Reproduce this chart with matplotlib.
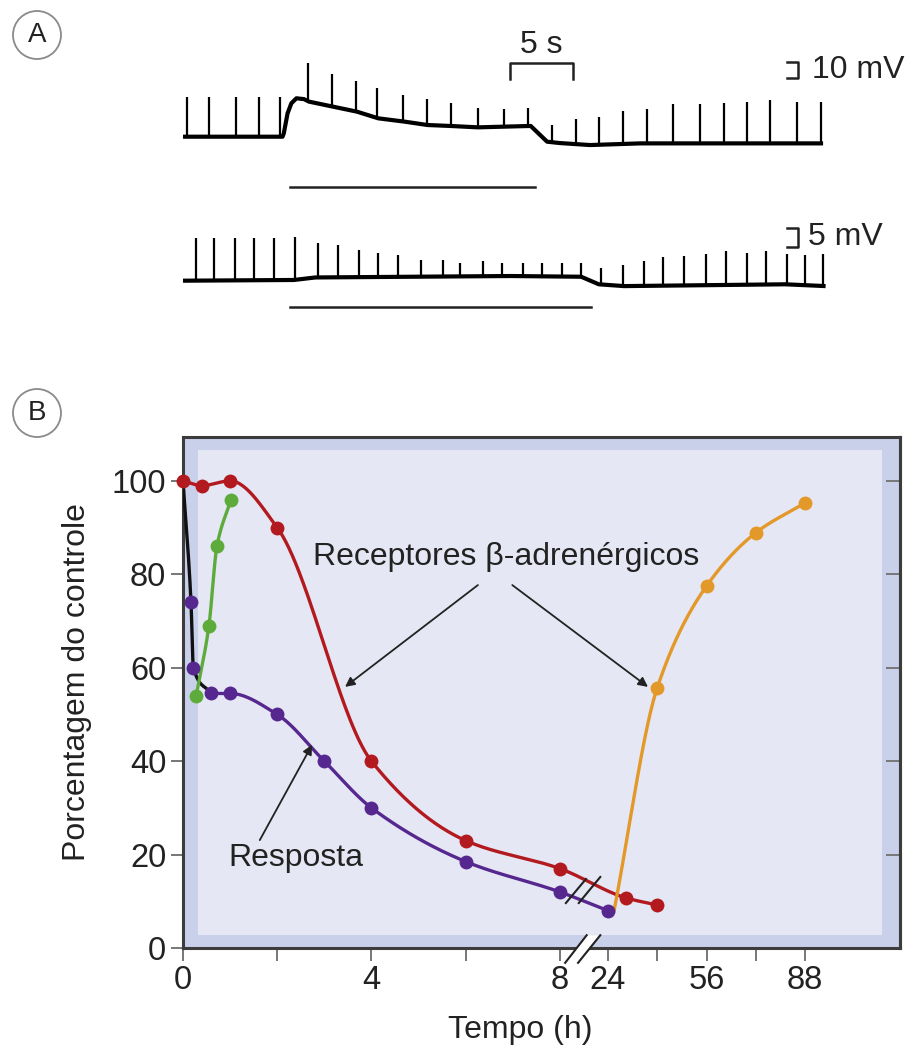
import numpy as np
import matplotlib.pyplot as plt
from matplotlib.patches import Ellipse, Polygon, Rectangle

plt.rcParams['font.family'] = ['Liberation Sans', 'DejaVu Sans']

W, H = 912, 1055

# ---------------- Painel A: registros (tempo em s, voltagem em mV) ----------------
top_base_t = [0.0, 7.9, 8.0, 8.3, 8.6, 9.0, 9.6, 10.0, 11.9, 13.8, 15.5, 17.6, 19.4, 21.3, 23.4,
              27.4, 27.6, 28.9, 29.9, 32.3, 36.3, 50.8]
top_base_v = [0, 0, 2, 14, 20, 23, 22.5, 21, 18, 15, 11, 9, 7, 6.4, 5.6,
              6.4, 6.4, -3, -3.8, -5, -4, -4]
top_spike_t = [0.3, 2.1, 4.2, 6.0, 7.7, 9.9, 11.8, 13.7, 15.4, 17.5, 19.4, 21.3, 23.4, 25.5,
               27.4, 29.3, 31.2, 33.0, 34.9, 36.8, 38.9, 41.0, 42.9, 44.8, 46.6, 48.7, 50.6]
top_spike_amp = [24, 24, 24, 24, 24, 23, 19.3, 18, 18, 16, 15.4, 14, 11.7, 10.6,
                 10.6, 10.2, 14.8, 16.8, 19.8, 20.8, 23.4, 23.8, 24.2, 24.8, 25.8, 24.8, 24.8]
top_stim = [8.5, 27.9]

bot_base_t = [0.0, 8.8, 10.5, 26.0, 31.6, 33.0, 35.0, 47.8, 51.0]
bot_base_v = [0, 0.2, 0.9, 1.3, 1.1, -1.0, -1.5, -1.0, -1.5]
bot_spike_t = [1.0, 2.5, 4.1, 5.6, 7.2, 8.9,
               10.7, 12.3, 14.0, 15.5, 17.1, 18.9, 20.6, 22.0, 23.8, 25.3, 27.0, 28.5, 30.1, 31.6,
               33.2, 34.9, 36.6, 38.1, 39.8, 41.5, 43.1, 44.8, 46.3, 47.9, 49.4, 50.8]
bot_spike_amp = [11.8, 11.8, 11.8, 11.8, 11.8, 11.8,
                 9.7, 8.9, 7.6, 6.6, 6.0, 4.6, 4.6, 3.7, 4.1, 3.5, 3.7, 3.7, 3.7, 3.7,
                 4.6, 5.8, 6.9, 8.1, 8.3, 8.8, 9.3, 8.8, 9.3, 8.3, 8.3, 9.0]
bot_stim = [8.5, 32.4]

# ---------------- Painel B: porcentagem do controle x tempo (h) ----------------
rec_t = [0, 0.4, 1, 2, 4, 6, 8, 30, 40]
rec_y = [100, 99, 100, 90, 40, 23, 17, 10.7, 9.2]
resp_t = [0.6, 1, 2, 3, 4, 6, 8, 24]
resp_y = [54.5, 54.5, 50, 40, 30, 18.5, 12, 8]
drop_t = [0, 0.17, 0.22, 0.6]
drop_y = [100, 74, 60, 54.5]
green_t = [0.28, 0.55, 0.72, 1.02]
green_y = [54, 69, 86, 96]
orange_t = [26, 40, 56, 72, 88]
orange_y = [8, 55.7, 77.5, 88.9, 95.3]

xticks = [0, 2, 4, 6, 8, 24, 40, 56, 72, 88]
xticklabels = ['0', '', '4', '', '8', '24', '', '56', '', '88']

RED = '#b21a1f'
PURPLE = '#56288f'
GREEN = '#5dab3b'
ORANGE = '#e3992a'
BAND = '#c9d0ea'
INNER = '#e6e7f4'
FS = 23

# eixo x quebrado: 0-8 h linear, salto 8-24, depois comprimido
G = 1.02
K = 0.0654


def fwd(t):
    t = np.asarray(t, float)
    return np.where(t <= 8, t, np.where(t <= 24, 8 + (t - 8) * G / 16, 8 + G + (t - 24) * K))


def inv(u):
    u = np.asarray(u, float)
    return np.where(u <= 8, u, np.where(u <= 8 + G, 8 + (u - 8) * 16 / G, 24 + (u - 8 - G) / K))


def smooth(t, y, n=300):
    # pchip no espaco do eixo, so para desenhar a curva
    u = fwd(t)
    y = np.asarray(y, float)
    h = np.diff(u)
    d = np.diff(y) / h
    m = np.zeros_like(y)
    m[0], m[-1] = d[0], d[-1]
    for i in range(1, len(y) - 1):
        if d[i - 1] * d[i] > 0:
            w1 = 2 * h[i] + h[i - 1]
            w2 = h[i] + 2 * h[i - 1]
            m[i] = (w1 + w2) / (w1 / d[i - 1] + w2 / d[i])
    uu = np.linspace(u[0], u[-1], n)
    k = np.clip(np.searchsorted(u, uu) - 1, 0, len(u) - 2)
    s = (uu - u[k]) / h[k]
    yy = ((2 * s**3 - 3 * s**2 + 1) * y[k] + (s**3 - 2 * s**2 + s) * h[k] * m[k]
          + (-2 * s**3 + 3 * s**2) * y[k + 1] + (s**3 - s**2) * h[k] * m[k + 1])
    return inv(uu), yy


fig = plt.figure(figsize=(W / 100, H / 100), dpi=100)

# ---------- painel A ----------
sec_px = 12.6
ax1 = fig.add_axes([0, (H - 200) / H, 1, 200 / H])
ax1.set_xlim(-183 / sec_px, (W - 183) / sec_px)
ax1.set_ylim((136.7 - 200) / 1.67, 136.7 / 1.67)
ax1.axis('off')
ax2 = fig.add_axes([0, (H - 340) / H, 1, 140 / H])
ax2.set_xlim(-183 / sec_px, (W - 183) / sec_px)
ax2.set_ylim((280.7 - 340) / 3.6, (280.7 - 200) / 3.6)
ax2.axis('off')

for ax, bt, bv, st, sa, stim, bar_v in [
        (ax1, top_base_t, top_base_v, top_spike_t, top_spike_amp, top_stim, -29.9),
        (ax2, bot_base_t, bot_base_v, bot_spike_t, bot_spike_amp, bot_stim, -7.2)]:
    ax.plot(bt, bv, color='black', lw=3.0, solid_capstyle='butt', solid_joinstyle='round')
    base = np.interp(st, bt, bv)
    ax.vlines(st, base, base + np.array(sa), color='black', lw=1.6)
    ax.plot(stim, [bar_v, bar_v], color='#222222', lw=1.8)

# barras de escala
ax1.plot([25.95, 25.95, 30.95, 30.95], [34.4, 44.3, 44.3, 34.4], color='#222222', lw=1.8)
ax1.text(28.45, 55.0, '5 s', ha='center', va='center', fontsize=FS, color='#222222')
ax1.plot([47.9, 48.8, 48.8, 47.9], [44.9, 44.9, 35.0, 35.0], color='#222222', lw=1.8)
ax1.text(49.9, 40, '10 mV', ha='left', va='center', fontsize=FS, color='#222222')
ax2.plot([47.9, 48.8, 48.8, 47.9], [14.6, 14.6, 9.4, 9.4], color='#222222', lw=1.8)
ax2.text(49.6, 12, '5 mV', ha='left', va='center', fontsize=FS, color='#222222')

# ---------- painel B ----------
ax = fig.add_axes([183 / W, (H - 948) / H, 717 / W, 511 / H])
ax.set_xscale('function', functions=(fwd, inv))
ax.set_xlim(0, 118.8)
ax.set_ylim(0, 109.4)
ax.set_facecolor(BAND)
ax.add_patch(Rectangle((0.021, 0.025), 0.954, 0.95, transform=ax.transAxes,
                       fc=INNER, ec='none', zorder=0))

ax.plot(*smooth(drop_t, drop_y), color='#111111', lw=2.4, zorder=3)
ax.plot(*smooth(green_t, green_y), color=GREEN, lw=2.4, zorder=3)
ax.plot(*smooth(resp_t, resp_y), color=PURPLE, lw=2.4, zorder=3)
ax.plot(*smooth(rec_t, rec_y), color=RED, lw=2.4, zorder=3)
ax.plot(*smooth(orange_t, orange_y), color=ORANGE, lw=2.4, zorder=3)

mk = dict(marker='o', ms=10, ls='none', mew=0, zorder=4, clip_on=False)
ax.plot(drop_t[1:3], drop_y[1:3], color=PURPLE, **mk)
ax.plot(resp_t, resp_y, color=PURPLE, **mk)
ax.plot(green_t, green_y, color=GREEN, **mk)
ax.plot(rec_t, rec_y, color=RED, **mk)
ax.plot(orange_t[1:], orange_y[1:], color=ORANGE, **mk)

# textos e setas
ax.text(2.76, 83.7, 'Receptores β-adrenérgicos', fontsize=FS, va='center', ha='left',
        color='#222222', zorder=6)
ax.text(0.96, 19.3, 'Resposta', fontsize=FS, va='center', ha='left', color='#222222', zorder=6)
arw = dict(arrowstyle='-|>', color='#222222', lw=1.3, mutation_scale=14, shrinkA=0, shrinkB=0)
ax.annotate('', xy=(3.44, 55.9), xytext=(6.26, 77.7), arrowprops=arw, zorder=6)
ax.annotate('', xy=(37.0, 55.9), xytext=(6.99, 77.7), arrowprops=arw, zorder=6)
ax.annotate('', xy=(2.74, 43.5), xytext=(1.63, 23.1), arrowprops=arw, zorder=6)

# eixos
ax.set_xticks(xticks)
ax.set_xticklabels(xticklabels)
ax.set_yticks([0, 20, 40, 60, 80, 100])
ax.minorticks_off()
ax.tick_params(direction='out', length=9, width=1.4, color='#777777',
               labelsize=23.5, labelcolor='#222222', pad=3)
for sp in ax.spines.values():
    sp.set_color('#3c3c3c')
    sp.set_linewidth(2.2)
sec = ax.secondary_yaxis('right')
sec.set_yticks([20, 40, 60, 80, 100])
sec.tick_params(direction='in', length=10, width=1.4, color='#777777', labelright=False)
sec.spines['right'].set_color('#3c3c3c')
sec.spines['right'].set_linewidth(2.2)

ax.set_ylabel('Porcentagem do controle', fontsize=FS, color='#222222')
ax.yaxis.set_label_coords(-0.127, 0.52)
ax.set_xlabel('Tempo (h)', fontsize=FS, color='#222222', va='top')
ax.xaxis.set_label_coords(0.471, -0.132)

# marcas de quebra
ax.add_patch(Polygon([(0.533, -0.029), (0.551, -0.029), (0.582, 0.025), (0.563, 0.025)],
                     closed=True, transform=ax.transAxes, fc='white', ec='none',
                     zorder=5, clip_on=False))
for x0, y0, x1, y1 in [(0.533, -0.029, 0.563, 0.025), (0.551, -0.029, 0.582, 0.025),
                       (0.534, 0.088, 0.562, 0.135), (0.552, 0.088, 0.582, 0.139)]:
    ax.plot([x0, x1], [y0, y1], transform=ax.transAxes, color='#222222', lw=1.5,
            zorder=6, clip_on=False)

# letras dos paineis
for lab, cx, cy in [('A', 37, 35), ('B', 37, 413)]:
    fig.patches.append(Ellipse((cx / W, 1 - cy / H), 48 / W, 48 / H, transform=fig.transFigure,
                               fc='white', ec='#8a8a8a', lw=1.3))
    fig.text(cx / W, 1 - cy / H, lab, ha='center', va='center', fontsize=20, color='#222222')

fig.savefig('out.png', dpi=100)
